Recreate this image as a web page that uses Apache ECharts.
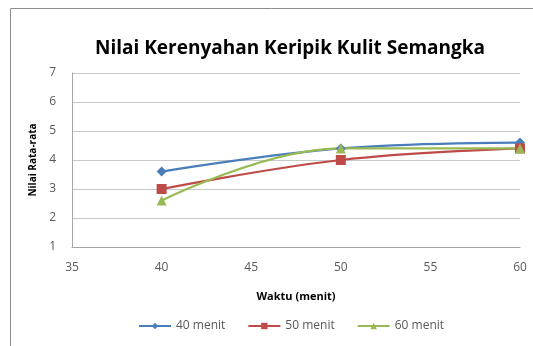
<!DOCTYPE html>
<html>
<head>
<meta charset="utf-8">
<script src="https://cdn.jsdelivr.net/npm/echarts@6/dist/echarts.min.js"></script>
<style>
  html, body { margin: 0; padding: 0; background: #fff; }
  #chart { width: 533px; height: 346px; }
</style>
</head>
<body>
<div id="chart"></div>
<script>
// Waktu (menit) on the x axis
const waktu = [40, 50, 60];
// Nilai rata-rata kerenyahan per series
const menit40 = [3.6, 4.4, 4.6];
const menit50 = [3.0, 4.0, 4.4];
const menit60 = [2.6, 4.4, 4.4];
const seriesNames = ['40 menit', '50 menit', '60 menit'];
const xTicks = [35, 40, 45, 50, 55, 60];
const yTicks = [1, 2, 3, 4, 5, 6, 7];

const colors = ['#4a7ebb', '#be4b48', '#98b954'];
const symbols = ['diamond', 'rect', 'triangle'];
const values = [menit40, menit50, menit60];

const chart = echarts.init(document.getElementById('chart'));
const font = '"Open Sans", "Noto Sans", sans-serif';

chart.setOption({
  animation: false,
  color: colors,
  graphic: [{
    type: 'polyline',
    shape: { points: [[10.5, 346], [10.5, 8.5], [533, 8.5]] },
    style: { stroke: '#8c8c8c', lineWidth: 1, fill: null }
  }],
  title: {
    text: 'Nilai Kerenyahan Keripik Kulit Semangka',
    left: 285, top: 34, textAlign: 'center',
    textStyle: { fontFamily: font, fontSize: 19, fontWeight: 'bold', color: '#000' }
  },
  legend: {
    data: seriesNames,
    bottom: 9, left: 133,
    itemWidth: 32, itemHeight: 8, itemGap: 22,
    textStyle: { fontFamily: font, fontSize: 12, color: '#595959' }
  },
  grid: { left: 72, right: 13, top: 73, bottom: 99 },
  xAxis: {
    type: 'value', min: xTicks[0], max: xTicks[xTicks.length - 1], interval: 5,
    name: 'Waktu (menit)', nameLocation: 'middle', nameGap: 44,
    nameTextStyle: { fontFamily: font, fontSize: 11, fontWeight: 'bold', color: '#000' },
    axisLine: { show: true, lineStyle: { color: '#a6a6a6' } },
    axisTick: { show: false },
    splitLine: { show: false },
    axisLabel: { fontFamily: font, fontSize: 12, color: '#595959', margin: 15 }
  },
  yAxis: {
    type: 'value', min: yTicks[0], max: yTicks[yTicks.length - 1], interval: 1,
    name: 'Nilai Rata-rata', nameLocation: 'middle', nameGap: 29,
    nameTextStyle: { fontFamily: font, fontSize: 10, fontWeight: 'bold', color: '#000' },
    axisLine: { show: true, lineStyle: { color: '#a6a6a6' } },
    axisTick: { show: false },
    splitLine: { lineStyle: { color: '#c8c8c8' } },
    axisLabel: { fontFamily: font, fontSize: 12, color: '#595959', margin: 16 }
  },
  series: seriesNames.map((name, i) => ({
    name,
    type: 'line',
    smooth: 0.4,
    symbol: symbols[i],
    symbolSize: 10,
    lineStyle: { width: 2.2, color: colors[i] },
    itemStyle: { color: colors[i] },
    data: waktu.map((x, k) => [x, values[i][k]])
  }))
});
</script>
</body>
</html>
